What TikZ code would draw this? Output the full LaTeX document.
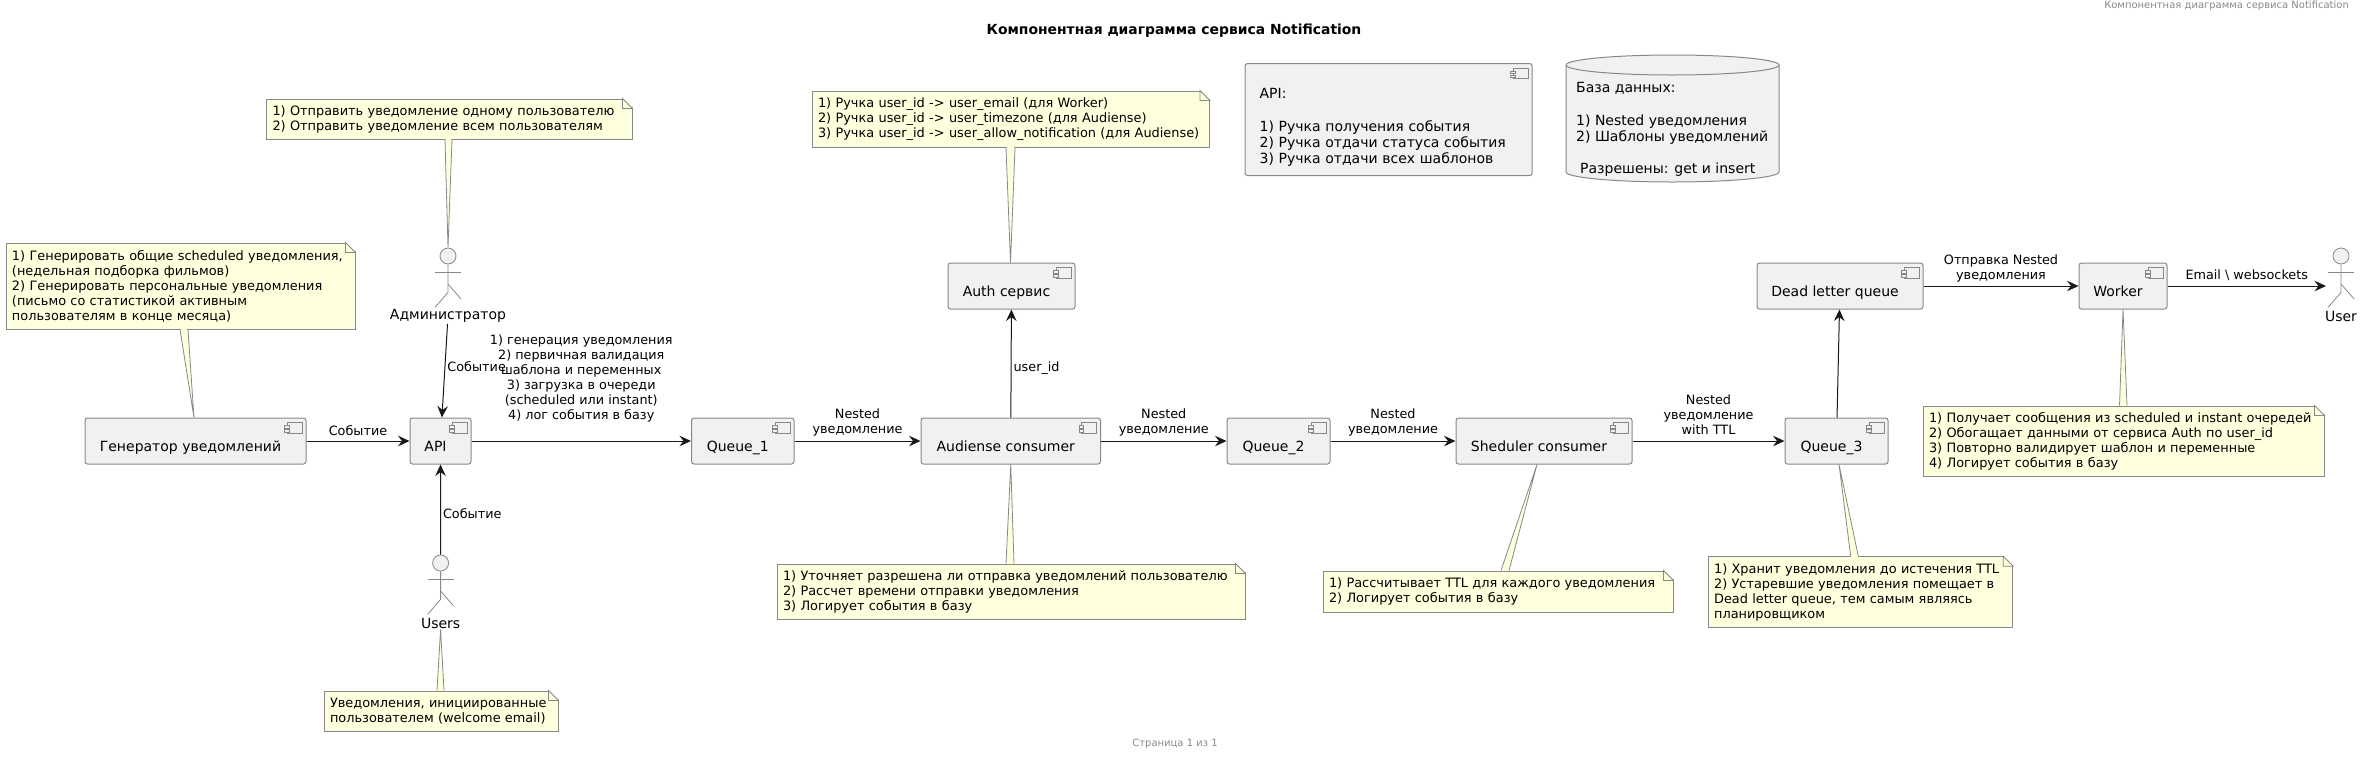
\documentclass[tikz,border=0pt]{standalone}
\usepackage{fontspec}
\setmainfont{DejaVu Sans}
\usetikzlibrary{arrows.meta}
\definecolor{boxFill}{HTML}{F1F1F1}
\definecolor{noteFill}{HTML}{FEFFDD}
\definecolor{lineGray}{HTML}{888888}
\definecolor{arrowDark}{HTML}{181818}
\tikzset{
  comp/.style={draw=lineGray, fill=boxFill, rounded corners=2.5pt, line width=1pt, font=\fontsize{14}{16}\selectfont,
    minimum height=46pt, inner sep=0pt, text height=23pt, text depth=3pt},
  iconline/.style={draw=lineGray, line width=.8pt, fill=boxFill},
  notebox/.style={draw=lineGray, fill=noteFill, line width=1pt, inner xsep=6pt, inner ysep=0pt, align=left,
    font=\fontsize{12.9}{15}\selectfont},
  notetail/.style={draw=lineGray, line width=.8pt},
  arr/.style={draw=arrowDark, line width=1pt, -{Stealth[length=11.5pt,width=10.5pt,inset=4pt]}},
  lab/.style={font=\fontsize{12.8}{15}\selectfont, align=center, inner sep=2pt, text=black},
  head/.style={circle, draw=lineGray, fill=boxFill, minimum size=16pt, inner sep=0pt, line width=.8pt},
  stick/.style={draw=lineGray, line width=.8pt},
  actlab/.style={font=\fontsize{14}{16}\selectfont, inner sep=1pt}
}
\newcommand{\compicon}[1]{
  \draw[iconline] ([shift={(-19.5pt,-5pt)}]#1.north east) rectangle ([shift={(-4.5pt,-15.5pt)}]#1.north east);
  \draw[iconline] ([shift={(-22pt,-8pt)}]#1.north east) rectangle ([shift={(-17.5pt,-10.5pt)}]#1.north east);
  \draw[iconline] ([shift={(-22pt,-12pt)}]#1.north east) rectangle ([shift={(-17.5pt,-14.5pt)}]#1.north east);
}
\begin{document}
\begin{tikzpicture}[x=1pt, y=-1pt]
  \useasboundingbox (0,0) rectangle (2361,756);
  % texts of the page
  \node[font=\fontsize{13.9}{16}\selectfont\bfseries] (title) at (1174,31) {Компонентная диаграмма сервиса Notification};
  \node[font=\fontsize{10}{12}\selectfont, text=lineGray, anchor=east, inner sep=0pt] (header) at (2349,6) {Компонентная диаграмма сервиса Notification};
  \node[font=\fontsize{10}{12}\selectfont, text=lineGray] (footer) at (1175,744) {Страница 1 из 1};

  % components
  \foreach \nm/\cx/\cy/\bw/\lab in {gen/195.5/441/221/Генератор уведомлений, api/440.5/441/61/API, queueA/742.75/441/102.5/Queue\_1,
      aud/1010.75/441/179.5/Audiense consumer, queueB/1278.5/441/103/Queue\_2, shed/1544/441/176/Sheduler consumer,
      queueC/1836.5/441/103/Queue\_3, auth/1011.5/286/127/Auth сервис, dead/1840/286/166/Dead letter queue, worker/2123/286/88/Worker} {
    \node[comp, minimum width=\bw pt] (\nm) at (\cx,\cy) {\lab\hspace*{10pt}};
    \compicon{\nm}
  }

  % info blocks at the top
  \node[comp, minimum width=287pt, minimum height=112pt, text height=, text depth=, align=left, anchor=north west, text width=258pt, inner xsep=14.5pt] (apiinfo) at (1244.6,63)
    {\rule{0pt}{26pt}API:\\[17pt]1) Ручка получения события\\ 2) Ручка отдачи статуса события\\ 3) Ручка отдачи всех шаблонов};
  \compicon{apiinfo}
  \draw[draw=lineGray, fill=boxFill, line width=1pt] (1566,65) .. controls (1566,59.5) and (1613.7,55) .. (1672.5,55) .. controls (1731.3,55) and (1779,59.5) .. (1779,65)
    -- (1779,172) .. controls (1779,177.5) and (1731.3,182) .. (1672.5,182) .. controls (1613.7,182) and (1566,177.5) .. (1566,172) -- cycle;
  \draw[draw=lineGray, line width=1pt] (1566,65) .. controls (1566,70.5) and (1613.7,75) .. (1672.5,75) .. controls (1731.3,75) and (1779,70.5) .. (1779,65);
  \node[font=\fontsize{14}{16.3}\selectfont, align=left, anchor=north west, inner sep=0pt] (dbtext) at (1576,82)
    {База данных:\\[16.3pt]1) Nested уведомления\\ 2) Шаблоны уведомлений\\[16.3pt]\hspace*{4pt}Разрешены: get и insert};

  % actors
  \foreach \nm/\ax/\ay/\lab in {adm/448/256/Администратор, usr/440.6/563/Users, client/2341/256/User} {
    \node[head] (\nm) at (\ax,\ay) {};
    \draw[stick] (\nm.south) -- ++(0,28) -- ++(-13,15);
    \draw[stick] (\ax,\ay+28) -- ++(13,15);
    \draw[stick] (\ax-13,\ay+16) -- (\ax+13,\ay+16);
    \node[actlab] (\nm lab) at (\ax,\ay+60) {\lab};
  }
  \coordinate (clientin) at (2326,286);

  % notes
  \node[notebox, minimum height=86pt, text width=337pt] (gennote) at (180.5,286) {1) Генерировать общие scheduled уведомления,\\(недельная подборка фильмов)\\2) Генерировать персональные уведомления\\(письмо со статистикой активным\\пользователям в конце месяца)};
  \node[notebox, minimum height=40pt, text width=353.5pt] (admnote) at (449.25,119) {1) Отправить уведомление одному пользователю\\2) Отправить уведомление всем пользователям};
  \node[notebox, minimum height=40pt, text width=222pt] (usrnote) at (441,711) {Уведомления, инициированные\\пользователем (welcome email)};
  \node[notebox, minimum height=56pt, text width=385.5pt] (authnote) at (1010.75,119) {1) Ручка user\_id -> user\_email (для Worker)\\2) Ручка user\_id -> user\_timezone (для Audiense)\\3) Ручка user\_id -> user\_allow\_notification (для Audiense)};
  \node[notebox, minimum height=55pt, text width=456pt] (audnote) at (1011,591.5) {1) Уточняет разрешена ли отправка уведомлений пользователю\\2) Рассчет времени отправки уведомления\\3) Логирует события в базу};
  \node[notebox, minimum height=41pt, text width=338pt] (shednote) at (1498,591.5) {1) Рассчитывает TTL для каждого уведомления\\2) Логирует события в базу};
  \node[notebox, minimum height=70.6pt, text width=292.7pt] (queuenote) at (1860.4,592) {1) Хранит уведомления до истечения TTL\\2) Устаревшие уведомления помещает в\\Dead letter queue, тем самым являясь\\планировщиком};
  \node[notebox, minimum height=70pt, text width=389pt] (worknote) at (2123.5,441) {1) Получает сообщения из scheduled и instant очередей\\2) Обогащает данными от сервиса Auth по user\_id\\3) Повторно валидирует шаблон и переменные\\4) Логирует события в базу};

  \foreach \nt/\an/\xa/\xb/\tp/\dx in {gennote/south/-.5/7.5/gen.north/-1.5, admnote/south/-4.25/2.75/adm.north/0, usrnote/north/-4/3/usrlab.south/0,
      authnote/south/-4.75/4.25/auth.north/-1, audnote/north/-5/3/aud.south/0, shednote/north/3/11/shed.south/-7,
      queuenote/north/-9.7/-2.1/queueC.south/2.5, worknote/north/-4/3.5/worker.south/0} {
    \fill[noteFill] ([xshift=\xa pt]\nt.\an) -- ([xshift=\dx pt]\tp) -- ([xshift=\xb pt]\nt.\an) -- cycle;
    \draw[notetail] ([xshift=\xa pt]\nt.\an) -- ([xshift=\dx pt]\tp) -- ([xshift=\xb pt]\nt.\an);
    \draw[noteFill, line width=1.2pt] ([xshift=\xa pt+.6pt]\nt.\an) -- ([xshift=\xb pt-.6pt]\nt.\an);
    % folded corner
    \fill[white] ([xshift=-10pt]\nt.north east) -- ([shift={(1pt,1pt)}]\nt.north east) -- ([yshift=-10pt]\nt.north east) -- cycle;
    \draw[notetail] ([xshift=-10pt]\nt.north east) -- ([yshift=-10pt]\nt.north east) -- ([shift={(-10pt,-10pt)}]\nt.north east) -- cycle;
  }

  % connectors
  \draw[arr] (gen) -- node[lab,above=3pt] (lgen) {Событие} (api);
  \draw[arr] (api) -- node[lab,above=16pt] (lapi) {1) генерация уведомления\\2) первичная валидация\\шаблона и переменных\\3) загрузка в очереди\\(scheduled или instant)\\4) лог события в базу} (queueA);
  \draw[arr] (admlab) -- node[lab,right,pos=.46] (ladm) {Событие} (api);
  \draw[arr] (usr) -- node[lab,right,pos=.45] (lusr) {Событие} (api);
  \draw[arr] (queueA) -- node[lab,above=2pt] (lqa) {Nested\\уведомление} (aud);
  \draw[arr] (aud) -- node[lab,above=2pt] (laud) {Nested\\уведомление} (queueB);
  \draw[arr] (aud) -- node[lab,right,pos=.46] (lauth) {user\_id} (auth);
  \draw[arr] (queueB) -- node[lab,above=2pt] (lqb) {Nested\\уведомление} (shed);
  \draw[arr] (shed) -- node[lab,above=4pt] (lshed) {Nested\\уведомление\\with TTL} (queueC);
  \draw[arr] (queueC) -- (dead);
  \draw[arr] (dead) -- node[lab,above=1pt] (ldead) {Отправка Nested\\уведомления} (worker);
  \draw[arr] (worker) -- node[lab,above=3pt] (lwork) {Email \textbackslash{} websockets} (clientin);
\end{tikzpicture}
\end{document}
